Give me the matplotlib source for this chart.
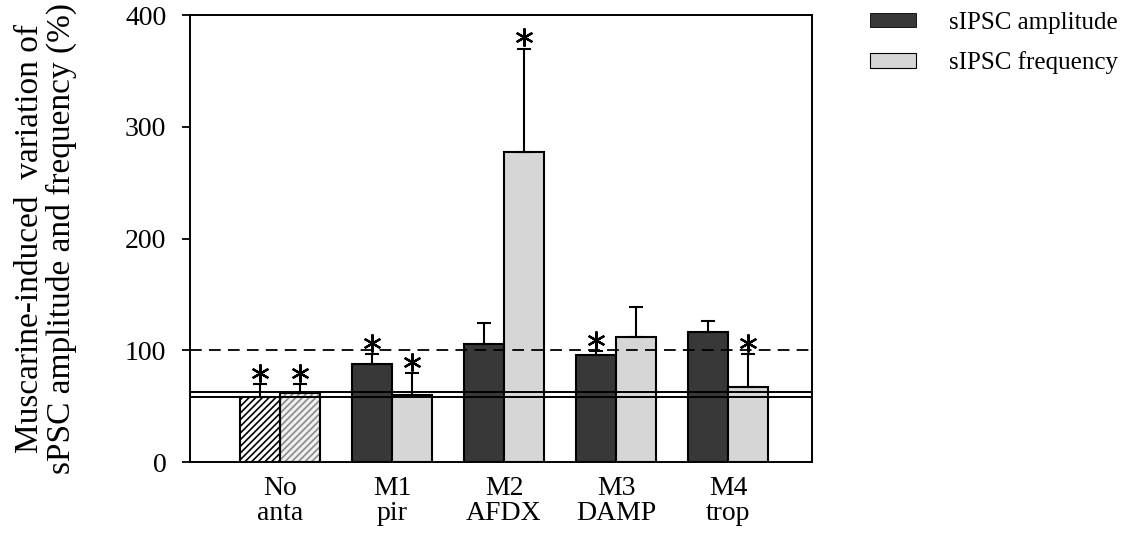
import numpy as np
import matplotlib
matplotlib.use('Agg')
import matplotlib.pyplot as plt
from matplotlib.patches import Patch
from matplotlib.transforms import offset_copy

plt.rcParams['font.family'] = ['Liberation Serif', 'DejaVu Serif']
plt.rcParams['hatch.linewidth'] = 1.2

# Groups (antagonist condition) and the two measured parameters, % of control
groups = ['No\nanta', 'M1\npir', 'M2\nAFDX', 'M3\nDAMP', 'M4\ntrop']
amp_mean = [58, 88, 106, 96, 116]
amp_sem = [12, 9, 18, 3, 10]
freq_mean = [62, 60, 277, 112, 67]
freq_sem = [8, 20, 93, 27, 30]
amp_sig = [True, True, False, True, False]
freq_sig = [True, True, True, False, True]

# reference levels: no-antagonist band and 100 % (no change)
control_band = [58, 63]
no_change = 100

dark = '#383838'
light = '#d6d6d6'

fig = plt.figure(figsize=(11.38, 5.4), dpi=100)
ax = fig.add_axes([0.167, 0.1444, 0.5465, 0.8278])

x = np.arange(1, len(groups) + 1)
w = 0.355

for i, xi in enumerate(x):
    xa = xi - w / 2
    xf = xi + w / 2
    if i == 0:
        # control bars are hatched instead of filled
        ax.bar(xa, amp_mean[i], w, color='white', hatch='/////', edgecolor='black', linewidth=0, zorder=2)
        ax.bar(xf, freq_mean[i], w, color='#f0f0f0', hatch='/////', edgecolor='#8a8a8a', linewidth=0, zorder=2)
        ax.bar([xa, xf], [amp_mean[i], freq_mean[i]], w, fill=False, edgecolor='black', linewidth=1.5, zorder=2.5)
    else:
        ax.bar(xa, amp_mean[i], w, color=dark, edgecolor='black', linewidth=1.5, zorder=2)
        ax.bar(xf, freq_mean[i], w, color=light, edgecolor='black', linewidth=1.5, zorder=2)

# upward error bars only
ax.errorbar(x - w / 2, amp_mean, yerr=[np.zeros(len(x)), amp_sem], fmt='none',
            ecolor='black', elinewidth=1.5, capsize=5, capthick=1.5, zorder=2.2)
ax.errorbar(x + w / 2, freq_mean, yerr=[np.zeros(len(x)), freq_sem], fmt='none',
            ecolor='black', elinewidth=1.5, capsize=5, capthick=1.5, zorder=2.2)

for yv in control_band:
    ax.axhline(yv, color='black', linewidth=1.4, zorder=3)
ax.axhline(no_change, color='black', linewidth=1.3, dashes=(6.5, 4), zorder=3)

# significance stars just above the error caps
star_tr = offset_copy(ax.transData, fig=fig, x=0, y=8, units='points')
for i, xi in enumerate(x):
    if amp_sig[i]:
        ax.plot(xi - w / 2, amp_mean[i] + amp_sem[i], marker=(6, 2, 0), ms=13,
                mew=1.6, color='black', transform=star_tr, zorder=4, clip_on=False)
    if freq_sig[i]:
        ax.plot(xi + w / 2, freq_mean[i] + freq_sem[i], marker=(6, 2, 0), ms=13,
                mew=1.6, color='black', transform=star_tr, zorder=4, clip_on=False)

ax.set_xlim(0.196, 5.75)
ax.set_ylim(0, 400)
ax.set_yticks([0, 100, 200, 300, 400])
ax.set_xticks(x)
ax.set_xticklabels(groups, fontsize=20, linespacing=1.0)
ax.tick_params(axis='x', length=0, pad=10)
ax.tick_params(axis='y', direction='out', length=6, width=1.3, labelsize=20, pad=11)
for s in ax.spines.values():
    s.set_linewidth(1.4)

fig.text(0.040, 0.559, 'Muscarine-induced  variation of\nsPSC amplitude and frequency (%)',
         rotation=90, ha='center', va='center', fontsize=24, linespacing=1.05,
         multialignment='center')

handles = [Patch(facecolor=dark, edgecolor='black', linewidth=0.6, label='sIPSC amplitude'),
           Patch(facecolor=light, edgecolor='black', linewidth=0.8, label='sIPSC frequency')]
fig.legend(handles=handles, loc='upper left', bbox_to_anchor=(870 / 1138, 1 - 12 / 540),
           bbox_transform=fig.transFigure, frameon=False, fontsize=18, borderpad=0,
           borderaxespad=0, handlelength=1.85, handleheight=0.5, handletextpad=1.3,
           labelspacing=0.7)

fig.savefig('out.png', dpi=100)
